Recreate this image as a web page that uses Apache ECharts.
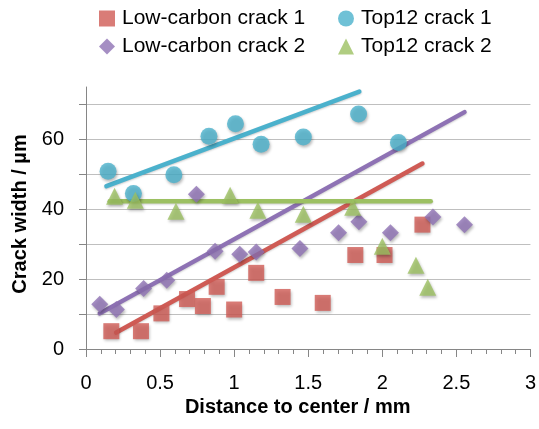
<!DOCTYPE html>
<html>
<head>
<meta charset="utf-8">
<script src="https://cdn.jsdelivr.net/npm/echarts@6/dist/echarts.min.js"></script>
<style>html,body{margin:0;padding:0;background:#fff;}#c{width:539px;height:429px;}</style>
</head>
<body>
<div id="c"></div>
<script>
// ---- Data ----
var seriesNames = ['Low-carbon crack 1', 'Low-carbon crack 2', 'Top12 crack 1', 'Top12 crack 2'];

var lc1X = [0.171, 0.371, 0.509, 0.682, 0.789, 0.882, 1.0, 1.149, 1.327, 1.598, 1.818, 2.015, 2.271];
var lc1Y = [5.1, 5.1, 10.2, 14.3, 12.3, 17.8, 11.3, 21.8, 14.9, 13.2, 26.9, 26.9, 35.6];

var lc2X = [0.093, 0.205, 0.389, 0.545, 0.745, 0.871, 1.038, 1.149, 1.444, 1.705, 1.842, 2.055, 2.342, 2.555];
var lc2Y = [12.8, 11.3, 17.3, 19.7, 44.3, 28.0, 27.1, 27.8, 28.8, 33.3, 36.4, 33.3, 37.8, 35.6];

var t1X = [0.149, 0.32, 0.593, 0.83, 1.009, 1.182, 1.467, 1.84, 2.109];
var t1Y = [50.9, 44.5, 49.9, 60.9, 64.5, 58.6, 60.7, 67.3, 59.1];

var t2X = [0.193, 0.333, 0.607, 0.973, 1.16, 1.467, 1.8, 2.0, 2.227, 2.307];
var t2Y = [43.7, 42.6, 39.4, 44.0, 39.7, 38.6, 40.6, 29.4, 24.0, 17.7];

// fitted lines: [start, end]
var lc1LineX = [0.204, 2.271];
var lc1LineY = [4.7, 53.1];
var lc2LineX = [0.093, 2.555];
var lc2LineY = [10.2, 67.8];
var t1LineX = [0.138, 1.845];
var t1LineY = [46.6, 73.7];
var t2LineX = [0.16, 2.327];
var t2LineY = [42.3, 42.3];

var xTicks = [0, 0.5, 1, 1.5, 2, 2.5, 3];
var yTicks = [0, 20, 40, 60];

var colors = ['#CF5B55', '#8E72B4', '#4BB1CC', '#9CC062'];

function zip(xs, ys) { return xs.map(function (x, i) { return [x, ys[i]]; }); }

var FONT = '"Liberation Sans", Arial, sans-serif';
var shadow = { shadowBlur: 3, shadowColor: 'rgba(0,0,0,0.35)', shadowOffsetX: 1, shadowOffsetY: 2 };

function scatter(name, xs, ys, symbol, size, color) {
  return {
    name: name, type: 'scatter', data: zip(xs, ys), symbol: symbol, symbolSize: size,
    z: 5,
    itemStyle: Object.assign({ color: color }, shadow)
  };
}
function fitLine(xs, ys, color) {
  return {
    type: 'line', data: zip(xs, ys), showSymbol: false, symbol: 'none', silent: true, z: 3,
    lineStyle: { color: color, width: 4.5, cap: 'round', shadowBlur: 2, shadowColor: 'rgba(0,0,0,0.2)', shadowOffsetY: 1 }
  };
}

var legendCommon = {
  orient: 'vertical', itemWidth: 16, itemHeight: 16, itemGap: 7,
  textStyle: { fontFamily: FONT, fontSize: 21, color: '#000', lineHeight: 21, padding: [0, 0, 0, 2] }
};

var chart = echarts.init(document.getElementById('c'), null, { renderer: 'canvas' });
chart.setOption({
  animation: false,
  backgroundColor: '#fff',
  grid: { left: 86, right: 3, top: 87, bottom: 80, containLabel: false },
  legend: [
    Object.assign({ left: 94, top: 3, data: [
      { name: seriesNames[0], icon: 'rect' },
      { name: seriesNames[1], icon: 'diamond' }
    ] }, legendCommon),
    Object.assign({ left: 333, top: 3, data: [
      { name: seriesNames[2], icon: 'circle' },
      { name: seriesNames[3], icon: 'triangle' }
    ] }, legendCommon)
  ],
  xAxis: {
    type: 'value', min: 0, max: 3, interval: 0.5,
    name: 'Distance to center / mm', nameLocation: 'middle', nameGap: 47,
    nameTextStyle: { fontFamily: FONT, fontSize: 20, fontWeight: 'bold', color: '#000', padding: [0, 21, 0, 0] },
    axisLine: { show: true, lineStyle: { color: '#868686', width: 1 } },
    axisTick: { show: true, length: 8, lineStyle: { color: '#868686' } },
    minorTick: { show: true, splitNumber: 5, length: 5, lineStyle: { color: '#868686' } },
    splitLine: { show: false },
    axisLabel: {
      fontFamily: FONT, fontSize: 20, color: '#000', margin: 24,
      formatter: function (v) { return xTicks.indexOf(+v.toFixed(2)) >= 0 ? String(+v.toFixed(2)) : ''; }
    }
  },
  yAxis: {
    type: 'value', min: 0, max: 75, interval: 10,
    name: 'Crack width / µm', nameLocation: 'middle', nameGap: 54,
    nameTextStyle: { fontFamily: FONT, fontSize: 20, fontWeight: 'bold', color: '#000', padding: [0, 0, 0, 8] },
    axisLine: { show: true, lineStyle: { color: '#868686', width: 1 } },
    axisTick: { show: true, length: 7, lineStyle: { color: '#868686' },
      interval: function (i, v) { return yTicks.indexOf(+v) >= 0; } },
    splitLine: { show: true, showMaxLine: false, showMinLine: false, lineStyle: { color: '#BFBFBF', width: 1 } },
    axisLabel: {
      fontFamily: FONT, fontSize: 20, color: '#000', margin: 22, showMaxLabel: false,
      formatter: function (v) { return yTicks.indexOf(+v) >= 0 ? String(v) : ''; }
    }
  },
  series: [
    fitLine(lc1LineX, lc1LineY, colors[0]),
    fitLine(lc2LineX, lc2LineY, colors[1]),
    fitLine(t1LineX, t1LineY, colors[2]),
    fitLine(t2LineX, t2LineY, colors[3]),
    scatter(seriesNames[0], lc1X, lc1Y, 'rect', 16, colors[0]),
    scatter(seriesNames[1], lc2X, lc2Y, 'diamond', 17, colors[1]),
    scatter(seriesNames[2], t1X, t1Y, 'circle', 17, colors[2]),
    scatter(seriesNames[3], t2X, t2Y, 'triangle', 17, colors[3])
  ]
});
</script>
</body>
</html>
